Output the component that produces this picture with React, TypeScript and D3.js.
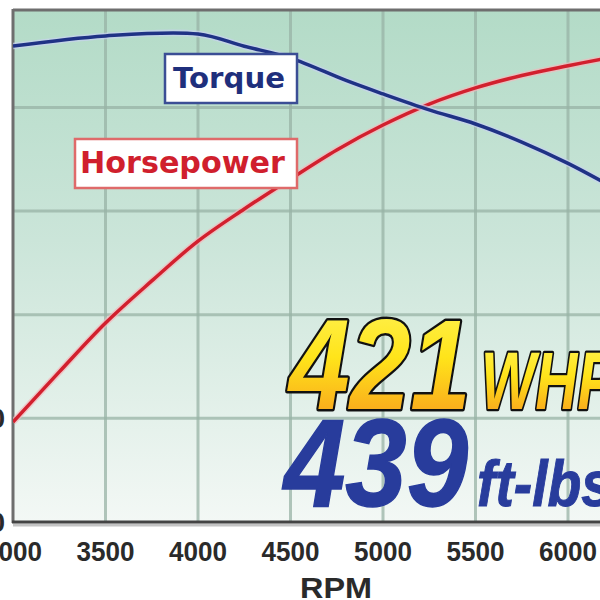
import React from "react";
import * as d3 from "d3";

const rpmTicks = [3000, 3500, 4000, 4500, 5000, 5500, 6000, 6500];
const powerTicks = [200, 250, 300, 350, 400];
const powerLabelTicks = [200, 250];

const torqueRpm = [3000, 3500, 4000, 4250, 4500, 4800, 5000, 5250, 5500, 5750, 6000, 6200];
const torqueVal = [429.6, 434.5, 435.4, 429.5, 423.8, 413.0, 406.5, 398.8, 392.0, 383.3, 373.0, 363.5];

const hpRpm = [3000, 3250, 3500, 3750, 4000, 4250, 4500, 4750, 5000, 5250, 5500, 5750, 6000, 6200];
const hpVal = [248.2, 272.4, 296.0, 316.3, 335.5, 351.0, 365.5, 379.5, 391.5, 401.6, 409.4, 415.4, 420.1, 423.6];

const peakHp = "421";
const peakHpUnit = "WHP";
const peakTq = "439";
const peakTqUnit = "ft-lbs";

export default function App() {
  const W = 600, H = 600;
  const left = 13, top = 10, bottom = 522;
  const x = d3.scaleLinear().domain([3000, 6500]).range([left, left + 3500 * 0.185]);
  const y = d3.scaleLinear().domain([200, 447]).range([bottom, top]);

  const line = d3
    .line<[number, number]>()
    .x((d) => x(d[0]))
    .y((d) => y(d[1]))
    .curve(d3.curveCatmullRom.alpha(0.5));

  const tq = line(torqueRpm.map((r, i) => [r, torqueVal[i]]) as [number, number][]) || "";
  const hp = line(hpRpm.map((r, i) => [r, hpVal[i]]) as [number, number][]) || "";

  const sans = "'Liberation Sans', Arial, sans-serif";
  const verd = "'DejaVu Sans', Verdana, sans-serif";

  return (
    <svg
      width={W}
      height={H}
      style={{ position: "absolute", left: 0, top: 0, background: "#fff" }}
    >
      <defs>
        <linearGradient id="bg" x1="0" y1="0" x2="0" y2="1">
          <stop offset="0%" stopColor="#b3dbc7" />
          <stop offset="45%" stopColor="#cbe5d9" />
          <stop offset="100%" stopColor="#f3f8f5" />
        </linearGradient>
        <linearGradient id="yel" x1="0" y1="0" x2="0" y2="1">
          <stop offset="0%" stopColor="#fff45a" />
          <stop offset="45%" stopColor="#ffe41a" />
          <stop offset="100%" stopColor="#f7941d" />
        </linearGradient>
        <clipPath id="plot">
          <rect x={left} y={top} width={W - left} height={bottom - top} />
        </clipPath>
      </defs>

      <rect x={left} y={top} width={W - left} height={bottom - top} fill="url(#bg)" />

      {/* grid */}
      <g clipPath="url(#plot)">
        {rpmTicks.slice(1).map((t) => (
          <line key={"v" + t} x1={x(t)} x2={x(t)} y1={top} y2={bottom} stroke="#98b3a5" strokeOpacity={0.75} strokeWidth={3} />
        ))}
        {powerTicks.slice(1).map((t) => (
          <line key={"h" + t} x1={left} x2={W} y1={y(t)} y2={y(t)} stroke="#98b3a5" strokeOpacity={0.75} strokeWidth={3} />
        ))}
      </g>

      {/* borders */}
      <line x1={left} x2={W} y1={top} y2={top} stroke="#6e6e6e" strokeWidth={3} />
      <line x1={left} x2={left} y1={top - 1} y2={bottom + 1} stroke="#6e6e6e" strokeWidth={3} />
      <line x1={left} x2={W} y1={bottom + 3} y2={bottom + 3} stroke="#c4c4c4" strokeWidth={3} />
      <line x1={left - 1} x2={W} y1={bottom} y2={bottom} stroke="#444" strokeWidth={3} />

      {/* curves */}
      <g clipPath="url(#plot)">
        <path d={hp} fill="none" stroke="#f4b8bc" strokeWidth={6.5} strokeOpacity={0.7} />
        <path d={hp} fill="none" stroke="#d2202e" strokeWidth={3.5} />
        <path d={tq} fill="none" stroke="#c8d2f0" strokeWidth={6.5} strokeOpacity={0.7} />
        <path d={tq} fill="none" stroke="#1f3285" strokeWidth={3.5} />
      </g>

      {/* legend boxes */}
      <rect x={165} y={54} width={132} height={49} fill="#fff" stroke="#3b4e95" strokeWidth={2.5} />
      <text x={173} y={88} fontFamily={verd} fontWeight="bold" fontSize={29} fill="#1f2f7c" textLength={112} lengthAdjust="spacingAndGlyphs">
        Torque
      </text>
      <rect x={75} y={139} width={222} height={49} fill="#fff" stroke="#df6a6a" strokeWidth={2.5} />
      <text x={80} y={173} fontFamily={verd} fontWeight="bold" fontSize={30} fill="#d01f2d" textLength={205} lengthAdjust="spacingAndGlyphs">
        Horsepower
      </text>

      {/* peak numbers */}
      <g fontFamily={sans} fontWeight="bold" fontStyle="italic">
        <text x={289} y={409} fontSize={128} fill="url(#yel)" stroke="#111" strokeWidth={5} paintOrder="stroke" strokeLinejoin="round" textLength={182} lengthAdjust="spacingAndGlyphs">
          {peakHp}
        </text>
        <text x={481} y={409} fontSize={82} fill="url(#yel)" stroke="#111" strokeWidth={4.5} paintOrder="stroke" strokeLinejoin="round" textLength={135} lengthAdjust="spacingAndGlyphs">
          {peakHpUnit}
        </text>
        <text x={284} y={506} fontSize={124} fill="#283c9c" stroke="#283c9c" strokeWidth={1.5} textLength={184} lengthAdjust="spacingAndGlyphs">
          {peakTq}
        </text>
        <text x={477} y={506} fontSize={64} fill="#283c9c" stroke="#283c9c" strokeWidth={1} textLength={135} lengthAdjust="spacingAndGlyphs">
          {peakTqUnit}
        </text>
      </g>

      {/* axis labels */}
      <g fontFamily={sans} fontWeight="bold" fill="#2a2a2a">
        {rpmTicks.map((t) => (
          <text key={"x" + t} x={x(t)} y={561} fontSize={28} textAnchor="middle" textLength={58} lengthAdjust="spacingAndGlyphs">
            {t}
          </text>
        ))}
        {powerLabelTicks.map((t) => (
          <text key={"y" + t} x={5} y={y(t) + 10} fontSize={28} textAnchor="end">
            {t}
          </text>
        ))}
        <text x={300} y={598} fontSize={30} textLength={72} lengthAdjust="spacingAndGlyphs">
          RPM
        </text>
      </g>
    </svg>
  );
}
